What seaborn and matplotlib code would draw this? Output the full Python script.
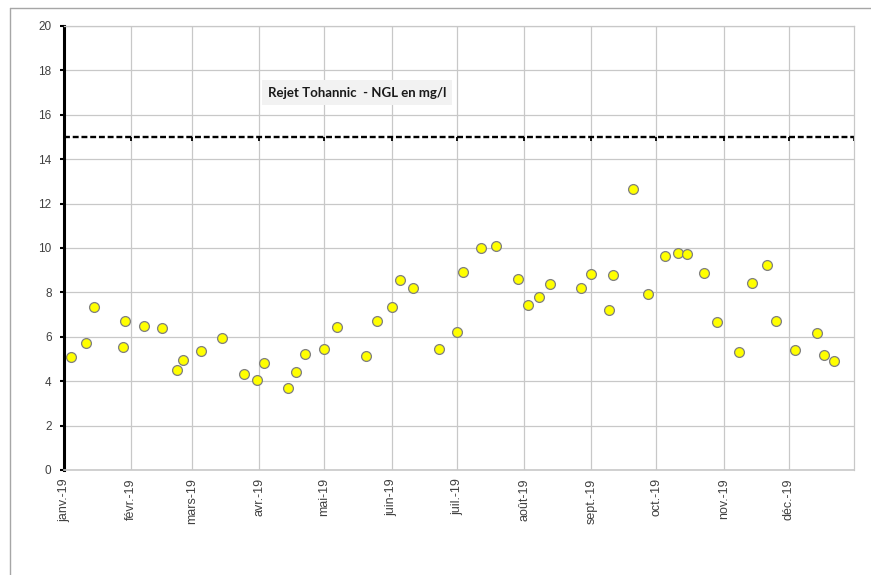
import pandas as pd
import matplotlib
matplotlib.use('Agg')
import matplotlib.pyplot as plt
import seaborn as sns

# sample dates and NGL values (mg/l)
dates = ['2019-01-04', '2019-01-11', '2019-01-15', '2019-01-28', '2019-01-29',
         '2019-02-07', '2019-02-15', '2019-02-22', '2019-02-25', '2019-03-05',
         '2019-03-15', '2019-03-25', '2019-03-31', '2019-04-03', '2019-04-14',
         '2019-04-18', '2019-04-22', '2019-05-01', '2019-05-07', '2019-05-20',
         '2019-05-25', '2019-06-01', '2019-06-05', '2019-06-11', '2019-06-23',
         '2019-07-01', '2019-07-04', '2019-07-12', '2019-07-19', '2019-07-29',
         '2019-08-03', '2019-08-08', '2019-08-13', '2019-08-27', '2019-09-01',
         '2019-09-09', '2019-09-11', '2019-09-20', '2019-09-27', '2019-10-05',
         '2019-10-11', '2019-10-15', '2019-10-23', '2019-10-29', '2019-11-08',
         '2019-11-14', '2019-11-21', '2019-11-25', '2019-12-04', '2019-12-14',
         '2019-12-17', '2019-12-22']
ngl = [5.10, 5.71, 7.33, 5.53, 6.71,
       6.50, 6.40, 4.49, 4.94, 5.37,
       5.96, 4.34, 4.04, 4.82, 3.71,
       4.40, 5.24, 5.44, 6.46, 5.12,
       6.71, 7.34, 8.54, 8.18, 5.44,
       6.20, 8.93, 10.00, 10.07, 8.62,
       7.43, 7.78, 8.36, 8.18, 8.84,
       7.19, 8.80, 12.64, 7.91, 9.64,
       9.79, 9.71, 8.86, 6.65, 5.32,
       8.41, 9.23, 6.71, 5.39, 6.19,
       5.20, 4.91]

# limit line at 15 mg/l
limit_dates = ['2019-01-01', '2019-02-01', '2019-03-01', '2019-04-01', '2019-05-01',
               '2019-06-01', '2019-07-01', '2019-08-01', '2019-09-01', '2019-10-01',
               '2019-11-01', '2019-12-01', '2019-12-31']
limit_value = 15

month_labels = ['janv.-19', 'févr.-19', 'mars-19', 'avr.-19', 'mai-19', 'juin-19',
                'juil.-19', 'août-19', 'sept.-19', 'oct.-19', 'nov.-19', 'déc.-19']

df = pd.DataFrame({'date': pd.to_datetime(dates), 'ngl': ngl})
df_limit = pd.DataFrame({'date': pd.to_datetime(limit_dates),
                         'ngl': [limit_value] * len(limit_dates)})

sns.set_style('white')
plt.rcParams['font.family'] = ['Liberation Sans', 'DejaVu Sans']

fig = plt.figure(figsize=(8.71, 5.75), dpi=100)
ax = fig.add_axes([64 / 871, 1 - 470 / 575, 790 / 871, 444 / 575])

# outer chart frame (top and left visible)
fig.add_artist(plt.Line2D([10 / 871, 1], [1 - 8 / 575, 1 - 8 / 575],
                          transform=fig.transFigure, color='#a6a6a6', lw=1))
fig.add_artist(plt.Line2D([10 / 871, 10 / 871], [0, 1 - 8 / 575],
                          transform=fig.transFigure, color='#a6a6a6', lw=1))

# dashed limit line with small tick marks at each month
sns.lineplot(x='date', y='ngl', data=df_limit, ax=ax, color='black', lw=1.7,
             linestyle=(0, (2.5, 1.2)), marker=3, markersize=3,
             markeredgewidth=1.3, markeredgecolor='black')

sns.scatterplot(x='date', y='ngl', data=df, ax=ax, color='#ffff00',
                edgecolor='#7f7f7f', linewidth=0.9, s=50, zorder=5)

ax.set_xlim(pd.Timestamp('2019-01-01'), pd.Timestamp('2019-12-31'))
ax.set_ylim(0, 20)
ax.set_yticks(range(0, 21, 2))
ax.set_xticks(pd.to_datetime(limit_dates[:12]))
ax.set_xticklabels(month_labels, rotation=90, fontsize=9, color='#404040')
ax.tick_params(axis='y', labelsize=8.5, labelcolor='#404040', length=3, width=1.5,
               color='black', left=True, pad=6)
ax.tick_params(axis='x', length=0, pad=6)
ax.set_xlabel('')
ax.set_ylabel('')

ax.grid(True, color='#c8c8c8', lw=0.9)
ax.set_axisbelow(True)
for side in ['top', 'right']:
    ax.spines[side].set_color('#c8c8c8')
    ax.spines[side].set_linewidth(0.9)
ax.spines['bottom'].set_color('#c8c8c8')
ax.spines['bottom'].set_linewidth(1.2)
ax.spines['left'].set_color('black')
ax.spines['left'].set_linewidth(2.2)

ax.text(pd.Timestamp('2019-05-16'), 17.0,
        'Rejet Tohannic  - NGL en mg/l', fontsize=9.5, fontweight='bold',
        family=['Lato', 'DejaVu Sans'], color='#1a1a1a', ha='center', va='center',
        bbox=dict(facecolor='#f2f2f2', edgecolor='none', pad=4.5))

fig.savefig('out.png', dpi=100)
